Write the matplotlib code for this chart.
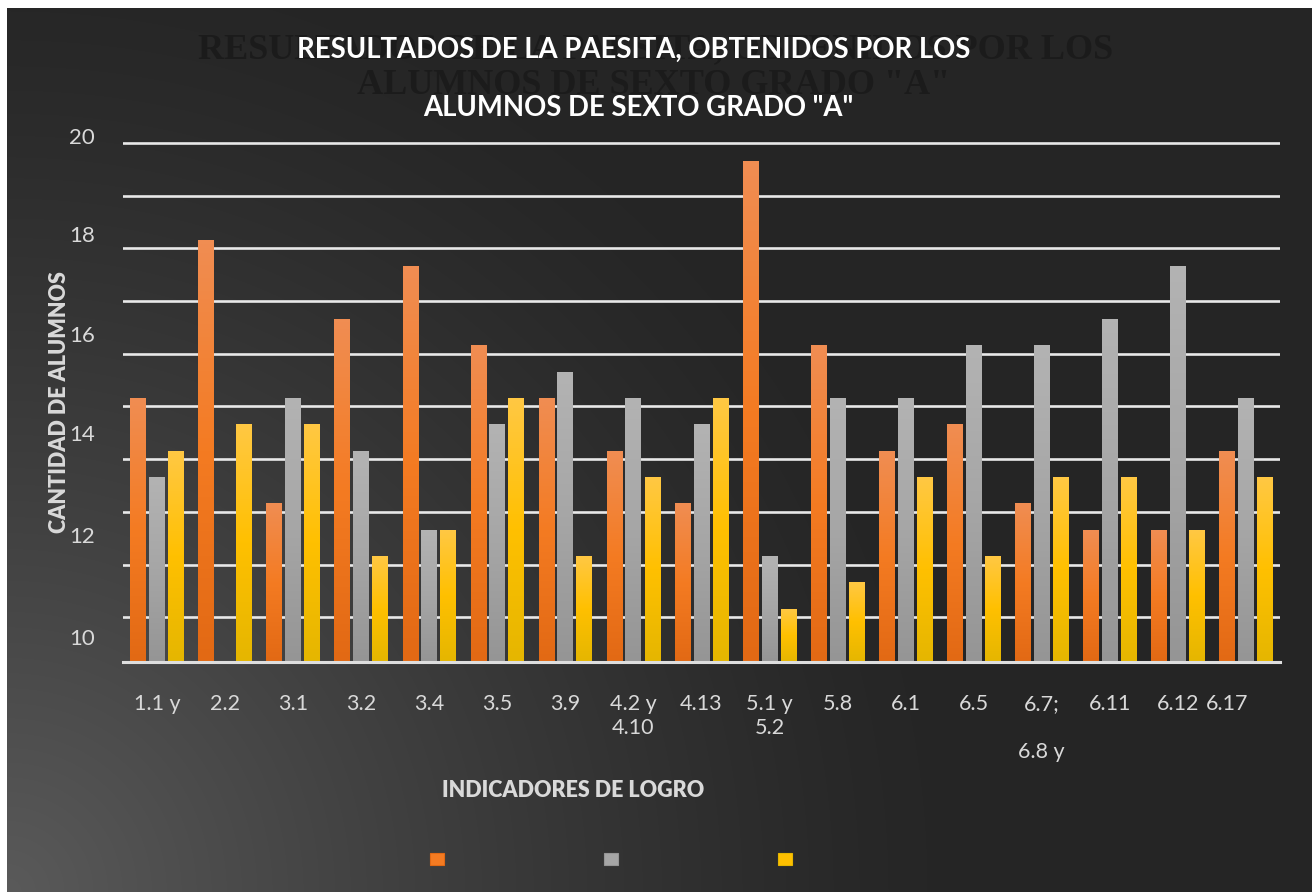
import numpy as np
import matplotlib.pyplot as plt
from matplotlib import font_manager
from matplotlib.patches import Patch
from matplotlib.colors import to_rgb
from matplotlib.transforms import ScaledTranslation

# datos
categorias = ["1.1 y", "2.2", "3.1", "3.2", "3.4", "3.5", "3.9", "4.2 y\n4.10", "4.13",
              "5.1 y\n5.2", "5.8", "6.1", "6.5", "6.7;\n\n6.8 y", "6.11", "6.12", "6.17"]
serie1 = [15.15, 18.15, 13.15, 16.65, 17.65, 16.15, 15.15, 14.15, 13.15,
          19.65, 16.15, 14.15, 14.65, 13.15, 12.65, 12.65, 14.15]
serie2 = [13.65, np.nan, 15.15, 14.15, 12.65, 14.65, 15.65, 15.15, 14.65,
          12.15, 15.15, 15.15, 16.15, 16.15, 16.65, 17.65, 15.15]
serie3 = [14.15, 14.65, 14.65, 12.15, 12.65, 15.15, 12.15, 13.65, 15.15,
          11.15, 11.65, 13.65, 12.15, 13.65, 13.65, 12.65, 13.65]
etiquetas_y = ["10", "12", "14", "16", "18", "20"]
pos_etiquetas_y = [10.62, 12.56, 14.5, 16.38, 18.27, 20.13]

nombres = {f.name for f in font_manager.fontManager.ttflist}
fuente = "Lato" if "Lato" in nombres else "DejaVu Sans"
fuente_titulo = "Liberation Sans Narrow" if "Liberation Sans Narrow" in nombres else fuente
plt.rcParams["font.family"] = [fuente, "DejaVu Sans"]

W, H = 1312, 892
fig = plt.figure(figsize=(W / 100, H / 100), dpi=100, facecolor="white")

# fondo con degradado radial (mas claro abajo a la izquierda)
bg = fig.add_axes([7 / W, 0, 1 - 7 / W, 1 - 8 / H], zorder=-10)
yy, xx = np.mgrid[0:H - 8, 0:W - 7]
d = np.hypot(xx, (H - 8) - yy)
t = np.clip(1 - d / 920, 0, 1) ** 1.25
c = (0x26 + (0x5a - 0x26) * t) / 255
bg.imshow(np.dstack([c, c, c]), aspect="auto", origin="upper")
bg.axis("off")

ax = fig.add_axes([123 / W, 1 - 662 / H, (1280 - 123) / W, (662 - 132.5) / H])
ax.set_facecolor("none")

x = np.arange(len(categorias))
ancho = 0.235
ymin, ymax = 10.15, 20.2

colores = [("#f08d52", "#f47b22", "#e26914"),
           ("#b3b3b3", "#a6a6a6", "#959595"),
           ("#ffc843", "#ffc000", "#e5b600")]
series = [serie1, serie2, serie3]
offsets = [-0.275, 0.0, 0.28]

for vals, off, (c_top, c_mid, c_bot) in zip(series, offsets, colores):
    vals = np.array(vals, dtype=float)
    barras = ax.bar(x + off, vals - ymin, ancho, bottom=ymin, color=c_mid,
                    edgecolor="none", zorder=3)
    top, mid, bot = np.array(to_rgb(c_top)), np.array(to_rgb(c_mid)), np.array(to_rgb(c_bot))
    s = np.linspace(0, 1, 100)[:, None]
    grad = np.where(s < 0.5, top + (mid - top) * (s / 0.5), mid + (bot - mid) * ((s - 0.5) / 0.5))
    grad = grad[:, None, :]
    for b, v in zip(barras, vals):
        if np.isnan(v):
            continue
        x0 = b.get_x()
        ax.imshow(grad, extent=[x0, x0 + ancho, ymin, v], aspect="auto",
                  origin="upper", zorder=4)

ax.set_xlim(-0.5, len(categorias) - 0.5)
ax.set_ylim(ymin, ymax)

# lineas de division
ax.set_yticks(np.arange(11, 21), minor=True)
ax.grid(which="minor", axis="y", color="#e8e8e8", linewidth=1.9, zorder=1)
ax.tick_params(axis="y", which="minor", length=0)
ax.set_yticks(pos_etiquetas_y)
ax.set_yticklabels(etiquetas_y)
ax.tick_params(axis="y", which="major", length=0, pad=20, labelsize=16, labelcolor="#d9d9d9")

ax.set_xticks(x)
ax.set_xticklabels(categorias, linespacing=1.25)
ax.tick_params(axis="x", length=0, pad=23, labelsize=15.5, labelcolor="#d9d9d9")
ultima = ax.get_xticklabels()[-1]
ultima.set_transform(ultima.get_transform() + ScaledTranslation(-0.19, 0, fig.dpi_scale_trans))

for lado in ["top", "right", "left"]:
    ax.spines[lado].set_visible(False)
ax.spines["bottom"].set_color("#dedede")
ax.spines["bottom"].set_linewidth(2.2)
ax.spines["bottom"].set_zorder(5)

ax.set_xlabel("INDICADORES DE LOGRO", fontsize=15.5, fontweight="heavy", color="#d9d9d9")
ax.xaxis.set_label_coords((573 - 123) / 1157, -(780 - 662) / 529.5)
ax.set_ylabel("CANTIDAD DE ALUMNOS", fontsize=15.5, fontweight="heavy", color="#d9d9d9")
ax.yaxis.set_label_coords((70 - 123) / 1157, 0.5 - 5 / 529.5)

# titulo (con el "fantasma" oscuro detras)
fig.text(656 / W, 1 - 50 / H, 'RESULTADOS DE LA PAESITA, OBTENIDOS POR LOS',
         family="Liberation Serif", fontsize=26, fontweight="bold", color="#1b1b1b",
         ha="center", va="center")
fig.text(654 / W, 1 - 86 / H, 'ALUMNOS DE SEXTO GRADO "A"',
         family="Liberation Serif", fontsize=26, fontweight="bold", color="#1b1b1b",
         ha="center", va="center")
fig.text(634 / W, 1 - 50 / H, 'RESULTADOS DE LA PAESITA, OBTENIDOS POR LOS',
         family=[fuente_titulo, "DejaVu Sans"], fontsize=19.8, fontweight="bold",
         color="white", ha="center", va="center")
fig.text(638 / W, 1 - 108 / H, 'ALUMNOS DE SEXTO GRADO "A"',
         family=[fuente_titulo, "DejaVu Sans"], fontsize=19.8, fontweight="bold",
         color="white", ha="center", va="center")

# leyenda sin texto
handles = [Patch(facecolor=c[1], edgecolor=c[2], linewidth=0.8) for c in colores]
fig.legend(handles, ["", "", ""], ncol=3, loc="center",
           bbox_to_anchor=(611 / W, 1 - 859 / H), frameon=False, fontsize=10,
           handlelength=1.0, handleheight=1.0, handletextpad=0.0, columnspacing=11.5)

fig.savefig("out.png", dpi=100, facecolor=fig.get_facecolor())
